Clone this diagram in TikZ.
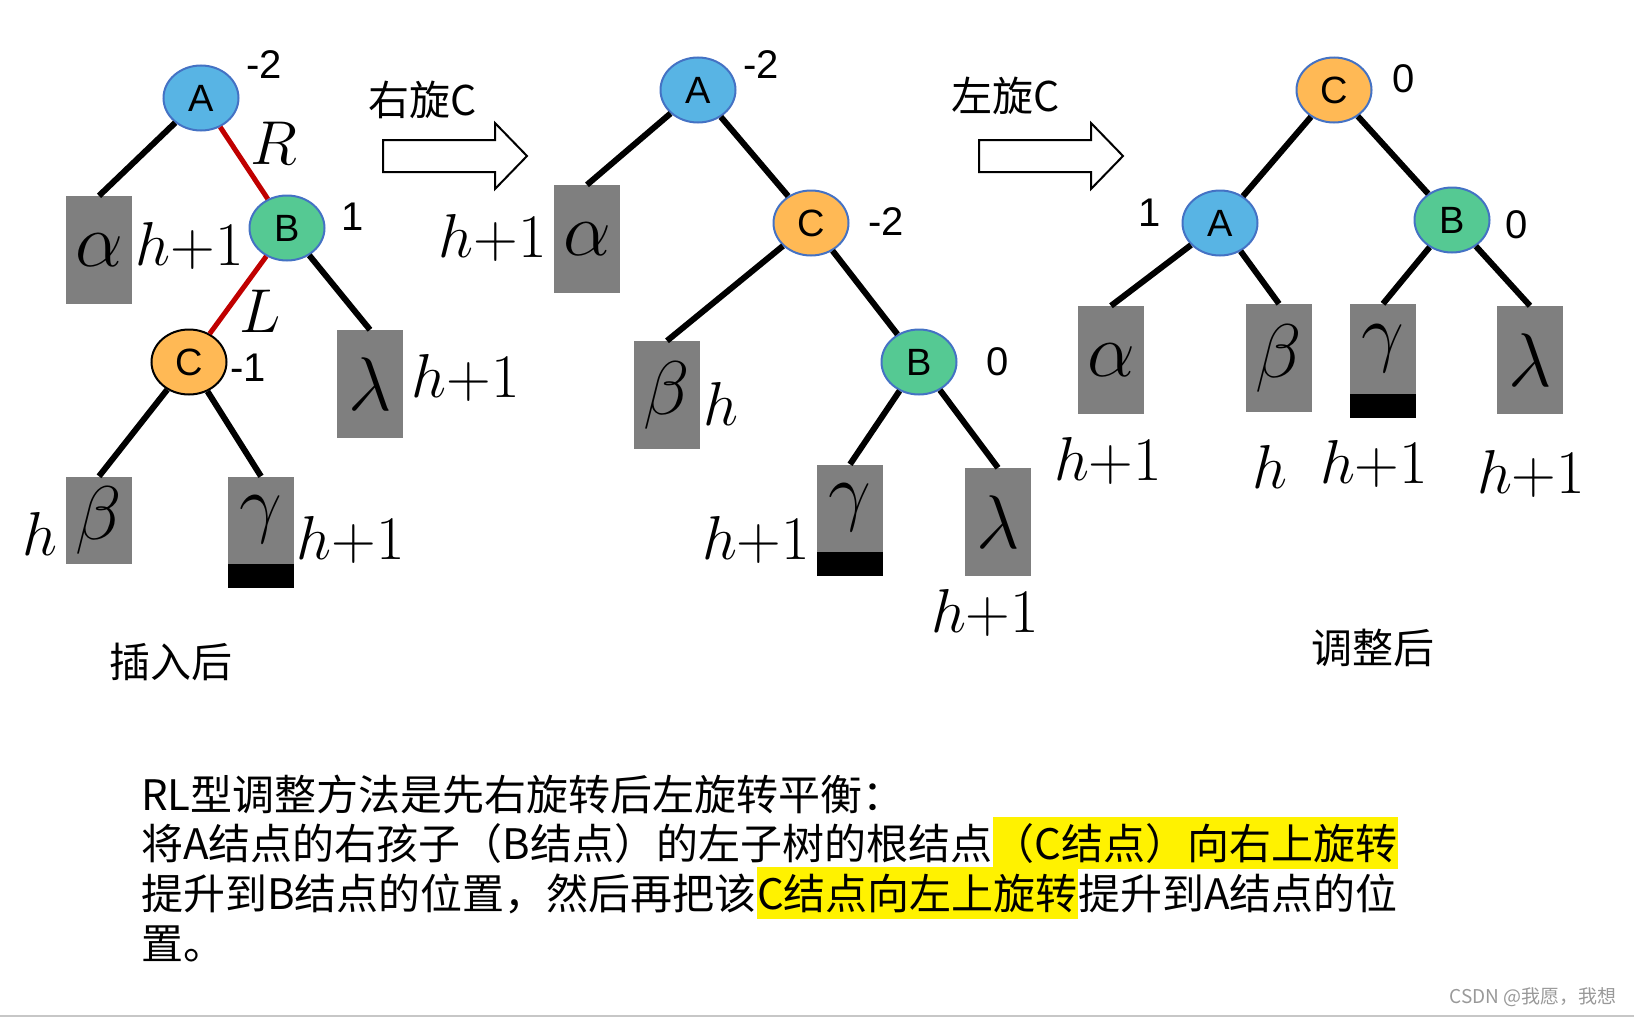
\RequirePackage{fix-cm}
\documentclass[tikz,border=0pt]{standalone}
\usepackage[no-math]{fontspec}
\setmainfont{Liberation Sans}
\newfontfamily\cjk{Noto Sans CJK SC}
\usetikzlibrary{positioning,shapes.geometric}
\definecolor{nodeblue}{HTML}{58B4E4}
\definecolor{nodegreen}{HTML}{55C993}
\definecolor{nodeorange}{HTML}{FFB955}
\definecolor{rimblue}{HTML}{4472C4}
\definecolor{edgered}{HTML}{C00000}
\definecolor{boxgray}{HTML}{7F7F7F}
\tikzset{
  avl/.style={ellipse, draw=rimblue, line width=2pt, minimum width=75pt,
    minimum height=65pt, inner sep=0pt, font=\fontsize{38}{38}\selectfont},
  bal/.style={font=\fontsize{40}{40}\selectfont},
  sub/.style={fill=boxgray, minimum width=66pt, minimum height=108pt,
    inner sep=0pt, font=\fontsize{76}{76}\selectfont},
  short/.style={minimum height=87pt},
  bar/.style={fill=black, minimum width=66pt, minimum height=24pt, inner sep=0pt},
  hgt/.style={font=\fontsize{62}{62}\selectfont},
  edge/.style={line width=6pt},
  redge/.style={line width=5pt, edgered},
  zhlabel/.style={font=\cjk\fontsize{41}{41}\selectfont},
  txt/.style={anchor=base west, inner xsep=0pt, inner ysep=2pt, text height=40pt,
    text depth=8pt, font=\cjk\fontsize{42}{50}\selectfont},
  hilite/.style={txt, fill=yellow},
}

\begin{document}
\begin{tikzpicture}[x=1pt, y=-1pt]
  \useasboundingbox (0,0) rectangle (1634,1017);

  % after insertion
  \node[avl, fill=nodeblue] (A1) at (201,98) {A};
  \node[avl, fill=nodegreen] (B1) at (287,228) {B};
  \node[avl, fill=nodeorange, draw=black] (C1) at (189,362) {C};
  \node[sub] (alpha1) at (99,250) {$\alpha$};
  \node[sub, short] (beta1) at (99,520) {$\beta$};
  \node[sub, short] (gamma1) at (261,520) {$\gamma$};
  \node[bar, below=0pt of gamma1] (bar1) {};
  \node[sub] (lambda1) at (370,384) {$\lambda$};
  \draw[edge] (A1) -- (alpha1.north);
  \draw[redge] (A1) -- (B1);
  \draw[redge] (B1) -- (C1);
  \draw[edge] (B1) -- (lambda1.north);
  \draw[edge] (C1) -- (beta1.north);
  \draw[edge] (C1) -- (gamma1.north);
  \node[bal] (balA1) at (264,65) {-2};
  \node[bal] (balB1) at (353,217) {1};
  \node[bal] (balC1) at (248,368) {-1};
  \node[hgt] (R) at (274,143) {$R$};
  \node[hgt] (L) at (260,311) {$L$};
  \node[hgt] (ha1) at (190,246) {$h{+}1$};
  \node[hgt] (hl1) at (466,378) {$h{+}1$};
  \node[hgt] (hb1) at (40,534) {$h$};
  \node[hgt] (hg1) at (351,540) {$h{+}1$};
  \node[zhlabel] (ins) at (171,662) {插入后};

  % right rotation, then left rotation
  \foreach \x in {383,979}
    \draw[line width=2pt] (\x,140) -- ++(112,0) -- ++(0,-17) -- ++(32,33)
      -- ++(-32,33) -- ++(0,-17) -- ++(-112,0) -- cycle;
  \node[zhlabel] (rotR) at (423,100) {右旋C};
  \node[zhlabel] (rotL) at (1006,96) {左旋C};

  % after right rotation
  \node[avl, fill=nodeblue] (A2) at (698,90) {A};
  \node[avl, fill=nodeorange] (C2) at (811,223) {C};
  \node[avl, fill=nodegreen] (B2) at (919,362) {B};
  \node[sub] (alpha2) at (587,239) {$\alpha$};
  \node[sub] (beta2) at (667,395) {$\beta$};
  \node[sub, short] (gamma2) at (850,508) {$\gamma$};
  \node[bar, below=0pt of gamma2] (bar2) {};
  \node[sub] (lambda2) at (998,522) {$\lambda$};
  \draw[edge] (A2) -- (alpha2.north);
  \draw[edge] (A2) -- (C2);
  \draw[edge] (C2) -- (beta2.north);
  \draw[edge] (C2) -- (B2);
  \draw[edge] (B2) -- (gamma2.north);
  \draw[edge] (B2) -- (lambda2.north);
  \node[bal] (balA2) at (761,65) {-2};
  \node[bal] (balC2) at (886,222) {-2};
  \node[bal] (balB2) at (998,362) {0};
  \node[hgt] (ha2) at (493,238) {$h{+}1$};
  \node[hgt] (hb2) at (721,404) {$h$};
  \node[hgt] (hg2) at (756,540) {$h{+}1$};
  \node[hgt] (hl2) at (985,613) {$h{+}1$};

  % after adjustment
  \node[avl, fill=nodeorange] (C3) at (1334,90) {C};
  \node[avl, fill=nodeblue] (A3) at (1220,223) {A};
  \node[avl, fill=nodegreen] (B3) at (1452,220) {B};
  \node[sub] (alpha3) at (1111,360) {$\alpha$};
  \node[sub] (beta3) at (1279,358) {$\beta$};
  \node[sub, minimum height=90pt] (gamma3) at (1383,349) {$\gamma$};
  \node[bar, below=0pt of gamma3] (bar3) {};
  \node[sub] (lambda3) at (1530,360) {$\lambda$};
  \draw[edge] (C3) -- (A3);
  \draw[edge] (C3) -- (B3);
  \draw[edge] (A3) -- (alpha3.north);
  \draw[edge] (A3) -- (beta3.north);
  \draw[edge] (B3) -- (gamma3.north);
  \draw[edge] (B3) -- (lambda3.north);
  \node[bal] (balC3) at (1404,79) {0};
  \node[bal] (balA3) at (1150,213) {1};
  \node[bal] (balB3) at (1517,225) {0};
  \node[hgt] (ha3) at (1108,461) {$h{+}1$};
  \node[hgt] (hb3) at (1270,467) {$h$};
  \node[hgt] (hg3) at (1374,464) {$h{+}1$};
  \node[hgt] (hl3) at (1531,474) {$h{+}1$};
  \node[zhlabel] (adj) at (1373,648) {调整后};

  % explanation
  \node[txt] (line1) at (141,810) {RL型调整方法是先右旋转后左旋转平衡：};
  \node[txt] (line2a) at (141,859) {将A结点的右孩子（B结点）的左子树的根结点};
  \node[hilite] (line2b) at (line2a.base east) {（C结点）向右上旋转};
  \node[txt] (line3a) at (141,909) {提升到B结点的位置，然后再把该};
  \node[hilite] (line3b) at (line3a.base east) {C结点向左上旋转};
  \node[txt] (line3c) at (line3b.base east) {提升到A结点的位};
  \node[txt] (line4) at (141,959) {置。};

  \node[text=black!40, font=\cjk\fontsize{19}{19}\selectfont] (wm) at (1533,997) {CSDN @我愿，我想};
  \draw[black!22, line width=2pt] (0,1016) -- (1634,1016);
\end{tikzpicture}
\end{document}
